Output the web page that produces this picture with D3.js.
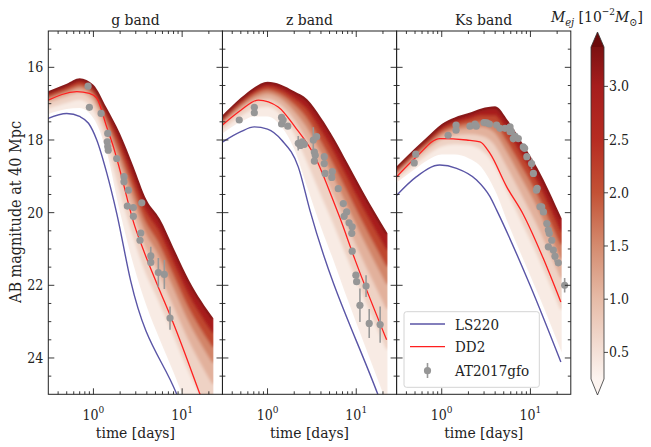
<!DOCTYPE html>
<html lang="en">
<head>
  <meta charset="UTF-8">
  <title>Kilonova light curves</title>
  <script src="https://d3js.org/d3.v7.min.js"></script>
  <style>
    body { margin: 0; background: #fff; }
    .tick-label { font-size: 14px; fill: #222; }
    .axis-label { font-size: 15.5px; fill: #222; }
    .legend-text { font-size: 15px; fill: #222; }
  </style>
</head>
<body>
<svg id="chart" width="651" height="447"></svg>
<script>
// ---- data ----
const bandNames = ["g band", "z band", "Ks band"];
const mejLevels = [0.25, 0.5, 0.9, 1.3, 1.8, 2.5, 3.37];   // 10^-2 Msun
const modelTimes = [0.3, 0.5, 0.7, 1.0, 1.4, 2.0, 2.8, 4.0, 5.6, 8.0, 12, 22.5];

// one row per ejecta mass (lowest first), AB mag at modelTimes
const gModels = [
  [17.30, 17.15, 17.12, 17.40, 18.30, 20.00, 21.40, 22.60, 23.50, 24.40, 25.50, 27.00],
  [17.09, 16.92, 16.84, 17.09, 17.90, 19.27, 20.49, 21.61, 22.38, 23.25, 24.28, 25.63],
  [16.94, 16.75, 16.65, 16.88, 17.62, 18.76, 19.86, 20.92, 21.60, 22.45, 23.43, 24.67],
  [16.85, 16.65, 16.53, 16.74, 17.44, 18.45, 19.47, 20.50, 21.12, 21.95, 22.91, 24.08],
  [16.78, 16.58, 16.45, 16.65, 17.32, 18.23, 19.19, 20.20, 20.78, 21.59, 22.53, 23.65],
  [16.72, 16.51, 16.37, 16.56, 17.20, 18.01, 18.93, 19.91, 20.45, 21.26, 22.18, 23.26],
  [16.67, 16.45, 16.30, 16.48, 17.10, 17.83, 18.70, 19.66, 20.17, 20.97, 21.87, 22.91]
];
const zModels = [
  [17.85, 17.50, 17.35, 17.35, 17.60, 18.25, 19.30, 20.40, 21.35, 22.40, 23.55, 25.30],
  [17.69, 17.28, 17.09, 17.03, 17.22, 17.72, 18.49, 19.39, 20.21, 21.14, 22.17, 23.71],
  [17.57, 17.12, 16.90, 16.81, 16.96, 17.34, 17.92, 18.68, 19.41, 20.26, 21.20, 22.60],
  [17.50, 17.03, 16.79, 16.67, 16.79, 17.12, 17.57, 18.24, 18.92, 19.72, 20.61, 21.92],
  [17.45, 16.96, 16.70, 16.57, 16.68, 16.95, 17.32, 17.93, 18.57, 19.32, 20.18, 21.43],
  [17.40, 16.90, 16.63, 16.48, 16.57, 16.80, 17.09, 17.64, 18.24, 18.96, 19.78, 20.97],
  [17.36, 16.84, 16.56, 16.40, 16.47, 16.66, 16.88, 17.38, 17.95, 18.64, 19.43, 20.57]
];
const ksModels = [
  [19.20, 18.80, 18.55, 18.40, 18.40, 18.50, 18.75, 19.40, 20.30, 21.20, 22.20, 23.85],
  [19.05, 18.61, 18.33, 18.12, 18.06, 18.08, 18.21, 18.62, 19.35, 20.15, 21.05, 22.61],
  [18.95, 18.48, 18.18, 17.92, 17.82, 17.79, 17.83, 18.07, 18.69, 19.41, 20.25, 21.75],
  [18.89, 18.39, 18.09, 17.80, 17.67, 17.62, 17.59, 17.74, 18.28, 18.96, 19.75, 21.22],
  [18.84, 18.33, 18.02, 17.71, 17.57, 17.49, 17.43, 17.49, 17.99, 18.63, 19.39, 20.83],
  [18.80, 18.28, 17.96, 17.63, 17.47, 17.37, 17.27, 17.27, 17.71, 18.33, 19.06, 20.47],
  [18.76, 18.23, 17.90, 17.56, 17.38, 17.26, 17.13, 17.07, 17.47, 18.06, 18.77, 20.16]
];

// [time, mag]
const gLS220 = [[0.3, 17.42], [0.5, 17.27], [0.71, 17.36], [0.88, 17.54], [1.09, 18.0], [1.41, 18.9], [1.83, 20.02], [2.63, 21.88], [8.7, 25.0], [22.5, 27.5]];
const gDD2 = [[0.3, 16.92], [0.65, 16.67], [0.9, 16.72], [1.09, 16.85], [1.41, 17.64], [1.68, 18.19], [2.08, 19.01], [2.48, 19.75], [2.78, 20.2], [3.66, 21.03], [5.18, 21.95], [7.98, 23.05], [15.9, 25.0], [22.5, 26.0]];
const zLS220 = [[0.3, 18.08], [0.5, 17.77], [0.71, 17.64], [1.0, 17.7], [1.44, 18.0], [2.22, 18.74], [3.0, 19.93], [17.5, 25.0], [22.5, 25.7]];
const zDD2 = [[0.3, 17.62], [0.5, 17.18], [0.79, 16.9], [1.32, 17.09], [2.04, 17.64], [3.43, 18.46], [5.29, 19.56], [6.56, 20.15], [9.7, 21.3], [22.0, 23.5]];
const ksLS220 = [[0.3, 19.56], [0.52, 19.01], [0.95, 18.69], [1.47, 18.78], [2.47, 19.1], [3.5, 19.56], [4.16, 19.93], [9.9, 22.0], [22.0, 24.11]];
const ksDD2 = [[0.3, 19.05], [0.52, 18.46], [0.95, 17.96], [1.91, 18.0], [2.7, 18.05], [3.5, 18.37], [5.4, 19.29], [8.3, 20.05], [13.9, 21.25], [22.0, 22.46]];

// AT2017gfo: [time, mag, error]
const gObs = [
  [0.87, 16.52, 0.05], [0.90, 17.10, 0.05], [1.22, 17.27, 0.05], [1.45, 17.82, 0.1], [1.43, 18.05, 0.05],
  [1.45, 18.18, 0.05], [1.47, 18.28, 0.05], [1.83, 18.51, 0.05], [2.21, 19.01, 0.1], [2.21, 19.15, 0.05],
  [2.48, 19.38, 0.05], [2.41, 19.82, 0.05], [2.82, 19.86, 0.05], [3.51, 19.73, 0.05], [2.82, 20.10, 0.05],
  [3.42, 20.56, 0.05], [3.35, 20.76, 0.05], [4.43, 21.19, 0.25], [4.43, 21.37, 0.05], [5.39, 21.65, 0.4],
  [6.3, 21.70, 0.4], [7.3, 22.90, 0.32]
];
const zObs = [
  [0.48, 17.45, 0.05], [0.71, 17.10, 0.05], [0.71, 17.25, 0.05], [1.44, 17.38, 0.05], [1.44, 17.56, 0.05],
  [1.50, 17.45, 0.05], [1.69, 17.62, 0.05], [2.22, 18.09, 0.2], [2.35, 18.15, 0.05], [2.46, 18.05, 0.05],
  [2.6, 18.12, 0.05], [3.28, 18.0, 0.35], [3.58, 17.91, 0.05], [3.37, 18.33, 0.05], [3.45, 18.42, 0.05],
  [3.37, 18.58, 0.05], [4.36, 18.46, 0.05], [4.36, 18.65, 0.05], [4.45, 18.92, 0.05], [5.37, 18.87, 0.05],
  [5.3, 19.03, 0.05], [6.27, 19.34, 0.05], [7.15, 19.75, 0.05], [7.8, 19.98, 0.05], [7.3, 20.1, 0.05],
  [8.3, 20.28, 0.05], [9.0, 20.39, 0.05], [8.9, 20.57, 0.05], [9.0, 21.06, 0.05], [9.9, 21.72, 0.05],
  [10.1, 21.9, 0.05], [12.9, 22.02, 0.3], [11.0, 22.55, 0.46], [14.0, 23.05, 0.4], [18.6, 23.08, 0.5]
];
const ksObs = [
  [0.51, 18.39, 0.05], [0.49, 18.63, 0.05], [1.18, 17.87, 0.05], [1.45, 17.59, 0.05], [1.45, 17.73, 0.05],
  [2.08, 17.62, 0.05], [2.37, 17.56, 0.05], [2.45, 17.62, 0.05], [3.0, 17.52, 0.05], [3.21, 17.53, 0.05],
  [3.44, 17.56, 0.05], [4.16, 17.59, 0.05], [4.54, 17.68, 0.05], [5.17, 17.68, 0.05], [5.89, 17.64, 0.05],
  [5.89, 17.77, 0.05], [6.1, 17.77, 0.05], [6.4, 17.96, 0.1], [6.7, 17.89, 0.05], [7.3, 17.96, 0.05],
  [8.3, 18.19, 0.05], [8.6, 18.23, 0.05], [9.1, 18.46, 0.05], [10.3, 18.65, 0.15], [10.8, 18.92, 0.05],
  [11.7, 19.38, 0.05], [11.9, 19.33, 0.05], [12.8, 19.84, 0.05], [13.4, 19.84, 0.05], [14.0, 19.98, 0.05],
  [15.3, 20.30, 0.05], [15.9, 20.48, 0.05], [16.3, 20.57, 0.05], [17.4, 20.76, 0.05], [15.9, 20.94, 0.05],
  [18.1, 21.03, 0.05], [18.9, 21.2, 0.15], [20.6, 21.38, 0.05], [24.3, 22.0, 0.2]
];

const colorTicks = [0.5, 1.0, 1.5, 2.0, 2.5, 3.0];
const yMajor = [16, 18, 20, 22, 24];

// ---- layout / styles ----
const plotTop = 31, plotBottom = 394.3;
const panelX = [48.3, 222.4, 396.6], panelW = 174.2;
const cmapStops = [
  [0.25, "#fcf4f0"], [0.5, "#f4e1d8"], [1.0, "#e6bba7"], [1.5, "#d48b6f"],
  [2.0, "#c35235"], [2.5, "#b62c22"], [3.0, "#a61d1d"], [3.37, "#7c1212"]
];
const overColor = "#6b0b0b", underColor = "#fcf4f0";
const serif = "DejaVu Serif Condensed, DejaVu Serif, serif";

const panels = [
  { name: bandNames[0], models: gModels, ls: gLS220, dd: gDD2, obs: gObs },
  { name: bandNames[1], models: zModels, ls: zLS220, dd: zDD2, obs: zObs },
  { name: bandNames[2], models: ksModels, ls: ksLS220, dd: ksDD2, obs: ksObs }
];

const x = d3.scaleLog().domain([0.31, 28.5]).range([0, panelW]);
const y = d3.scaleLinear().domain([15, 25]).range([plotTop, plotBottom]);
const color = d3.scaleLinear()
  .domain(cmapStops.map(d => d[0]))
  .range(cmapStops.map(d => d[1]))
  .interpolate(d3.interpolateRgb)
  .clamp(true);

const svg = d3.select("#chart").style("font-family", serif);
const defs = svg.append("defs");

defs.append("filter").attr("id", "soft")
  .attr("x", "-10%").attr("y", "-10%").attr("width", "120%").attr("height", "120%")
  .append("feGaussianBlur").attr("stdDeviation", 1.6);

const line = d3.line().x(d => x(d[0])).y(d => y(d[1])).curve(d3.curveMonotoneX);
const strip = d3.area()
  .x(d => x(d.t)).y0(d => y(d.lo)).y1(d => y(d.hi))
  .curve(d3.curveMonotoneX);

const xMinor = [0.4, 0.5, 0.6, 0.7, 0.8, 0.9, 2, 3, 4, 5, 6, 7, 8, 9, 20];
const yMinor = d3.range(15.5, 25, 0.5).filter(v => !yMajor.includes(v));

panels.forEach((p, i) => {
  const g = svg.append("g").attr("transform", `translate(${panelX[i]},0)`);

  defs.append("clipPath").attr("id", "clip" + i)
    .append("rect").attr("x", 0).attr("y", plotTop)
    .attr("width", panelW).attr("height", plotBottom - plotTop);

  const pair = (lo, hi) => modelTimes.map((t, j) => ({ t, lo: lo[j], hi: hi[j] }));
  defs.append("clipPath").attr("id", "env" + i)
    .append("path").attr("d", strip(pair(p.models[0], p.models[p.models.length - 1])));

  const plot = g.append("g").attr("clip-path", `url(#clip${i})`);

  const fam = plot.append("g").attr("clip-path", `url(#env${i})`)
    .append("g").attr("filter", "url(#soft)");
  for (let k = 1; k < p.models.length; k++) {
    // each strip takes the colour of its mean ejecta mass
    const c = color((mejLevels[k - 1] + mejLevels[k]) / 2);
    fam.append("path")
      .attr("d", strip(pair(p.models[k - 1], p.models[k])))
      .attr("fill", c)
      .attr("stroke", c)
      .attr("stroke-width", 4)
      .attr("stroke-linejoin", "round");
  }
  // darkest edge
  const top = p.models[p.models.length - 1];
  fam.append("path")
    .attr("d", line(modelTimes.map((t, j) => [t, top[j]])))
    .attr("fill", "none").attr("stroke", color(3.37)).attr("stroke-width", 4);

  plot.append("path").attr("d", line(p.ls))
    .attr("fill", "none").attr("stroke", "#5a55a6").attr("stroke-width", 1.4);
  plot.append("path").attr("d", line(p.dd))
    .attr("fill", "none").attr("stroke", "#ff1f1f").attr("stroke-width", 1.3);

  const pts = plot.append("g");
  pts.selectAll("line").data(p.obs).join("line")
    .attr("x1", d => x(d[0])).attr("x2", d => x(d[0]))
    .attr("y1", d => y(d[1] - d[2])).attr("y2", d => y(d[1] + d[2]))
    .attr("stroke", "#999").attr("stroke-width", 1.6);
  pts.selectAll("circle").data(p.obs).join("circle")
    .attr("cx", d => x(d[0])).attr("cy", d => y(d[1]))
    .attr("r", 3.6).attr("fill", "#969696");

  // frame
  g.append("rect").attr("x", 0).attr("y", plotTop)
    .attr("width", panelW).attr("height", plotBottom - plotTop)
    .attr("fill", "none").attr("stroke", "#222").attr("stroke-width", 1);

  // inward ticks on all sides
  const ticks = g.append("g").attr("stroke", "#222").attr("stroke-width", 0.9);
  const yt = yMajor.map(v => [v, 6]).concat(yMinor.map(v => [v, 3]));
  yt.forEach(([v, len]) => {
    ticks.append("line").attr("x1", 0).attr("x2", len).attr("y1", y(v)).attr("y2", y(v));
    ticks.append("line").attr("x1", panelW).attr("x2", panelW - len).attr("y1", y(v)).attr("y2", y(v));
  });
  const xt = [1, 10].map(v => [v, 6]).concat(xMinor.map(v => [v, 3]));
  xt.forEach(([v, len]) => {
    ticks.append("line").attr("x1", x(v)).attr("x2", x(v)).attr("y1", plotBottom).attr("y2", plotBottom - len);
    ticks.append("line").attr("x1", x(v)).attr("x2", x(v)).attr("y1", plotTop).attr("y2", plotTop + len);
  });

  [1, 10].forEach((v, k) => {
    const t = g.append("text").attr("class", "tick-label")
      .attr("x", x(v)).attr("y", 420).attr("text-anchor", "middle");
    t.append("tspan").text("10");
    t.append("tspan").attr("dy", -7).style("font-size", "10px").text(k);
  });

  g.append("text").attr("class", "axis-label")
    .attr("x", panelW / 2).attr("y", 438).attr("text-anchor", "middle")
    .text("time [days]");
  g.append("text").attr("class", "axis-label")
    .attr("x", panelW / 2).attr("y", 25).attr("text-anchor", "middle")
    .text(p.name);

  if (i === 0) {
    yMajor.forEach(v => {
      g.append("text").attr("class", "tick-label")
        .attr("x", -5).attr("y", y(v) + 5).attr("text-anchor", "end").text(v);
    });
  }
});

svg.append("text").attr("class", "axis-label")
  .attr("transform", "translate(21,212) rotate(-90)")
  .attr("text-anchor", "middle")
  .style("font-size", "16px")
  .text("AB magnitude at 40 Mpc");

// ---- legend ----
const lg = svg.append("g");
lg.append("rect").attr("x", 404).attr("y", 311.7).attr("width", 135.3).attr("height", 75.6)
  .attr("rx", 2.5).attr("fill", "#fff").attr("fill-opacity", 0.85)
  .attr("stroke", "#d4d4d4").attr("stroke-width", 1);
lg.append("line").attr("x1", 410).attr("x2", 445).attr("y1", 324).attr("y2", 324)
  .attr("stroke", "#5a55a6").attr("stroke-width", 1.4);
lg.append("line").attr("x1", 410).attr("x2", 445).attr("y1", 346.7).attr("y2", 346.7)
  .attr("stroke", "#ff1f1f").attr("stroke-width", 1.3);
lg.append("line").attr("x1", 427.5).attr("x2", 427.5).attr("y1", 363).attr("y2", 378)
  .attr("stroke", "#999").attr("stroke-width", 1.6);
lg.append("circle").attr("cx", 427.5).attr("cy", 370.7).attr("r", 3.6).attr("fill", "#969696");
[["LS220", 324], ["DD2", 346.7], ["AT2017gfo", 370.7]].forEach(([s, yy]) => {
  lg.append("text").attr("class", "legend-text")
    .attr("x", 455).attr("y", yy + 5.5).text(s);
});

// ---- colorbar ----
const cbX = 591, cbW = 13, cbTop = 47, cbBot = 379;
const cb = d3.scaleLinear().domain([0.25, 3.37]).range([cbBot, cbTop]);
const grad = defs.append("linearGradient").attr("id", "cbgrad")
  .attr("x1", 0).attr("y1", 1).attr("x2", 0).attr("y2", 0);
cmapStops.forEach(([v, c]) => {
  grad.append("stop").attr("offset", (v - 0.25) / 3.12).attr("stop-color", c);
});
svg.append("rect").attr("x", cbX).attr("y", cbTop).attr("width", cbW).attr("height", cbBot - cbTop)
  .attr("fill", "url(#cbgrad)");
svg.append("path")
  .attr("d", `M${cbX},${cbTop} L${cbX + cbW / 2},${cbTop - 15} L${cbX + cbW},${cbTop} Z`)
  .attr("fill", overColor);
svg.append("path")
  .attr("d", `M${cbX},${cbBot} L${cbX + cbW / 2},${cbBot + 16} L${cbX + cbW},${cbBot} Z`)
  .attr("fill", underColor);
svg.append("path")
  .attr("d", `M${cbX},${cbTop} L${cbX + cbW / 2},${cbTop - 15} L${cbX + cbW},${cbTop} L${cbX + cbW},${cbBot} L${cbX + cbW / 2},${cbBot + 16} L${cbX},${cbBot} Z`)
  .attr("fill", "none").attr("stroke", "#333").attr("stroke-width", 0.8);
colorTicks.forEach(v => {
  svg.append("line").attr("x1", cbX + cbW).attr("x2", cbX + cbW + 4)
    .attr("y1", cb(v)).attr("y2", cb(v)).attr("stroke", "#333").attr("stroke-width", 0.9);
  svg.append("text").attr("class", "tick-label")
    .attr("x", cbX + cbW + 5).attr("y", cb(v) + 5).text(v.toFixed(1));
});

const cl = svg.append("text").attr("x", 597).attr("y", 22)
  .attr("text-anchor", "middle").style("font-size", "15.5px").attr("fill", "#222");
cl.append("tspan").style("font-style", "italic").text("M");
cl.append("tspan").attr("dy", 4).style("font-style", "italic").style("font-size", "11px").text("ej");
cl.append("tspan").attr("dy", -4).text(" [10");
cl.append("tspan").attr("dy", -7).style("font-size", "10px").text("−2");
cl.append("tspan").attr("dy", 7).style("font-style", "italic").text("M");
cl.append("tspan").attr("dy", 4).style("font-size", "11px").text("⊙");
cl.append("tspan").attr("dy", -4).text("]");
</script>
</body>
</html>
